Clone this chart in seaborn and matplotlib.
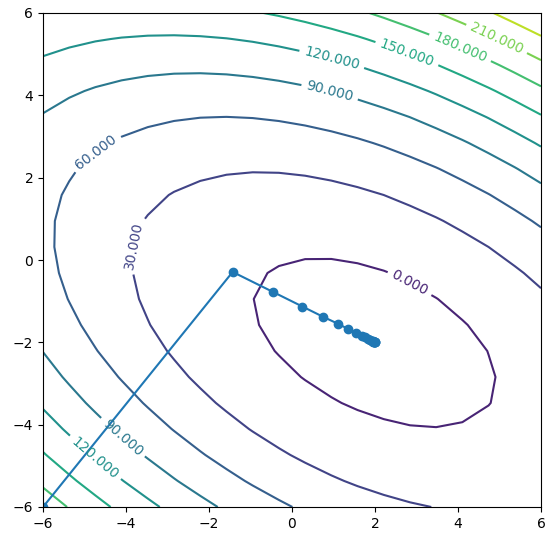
import numpy as np
import matplotlib
matplotlib.use('Agg')
import matplotlib.pyplot as plt
import seaborn as sns

# Forma cuadratica f(x) = 1/2 x^T A x - b^T x
A = [[3.0, 2.0], [2.0, 6.0]]
b = [2.0, -8.0]

# Niveles de las curvas de nivel
niveles = [0, 30, 60, 90, 120, 150, 180, 210, 240]

# Recorrido del descenso de gradiente
camino_x = [-6.0, -1.43, -0.45, 0.25, 0.75, 1.11, 1.36, 1.55, 1.68, 1.77, 1.83,
            1.88, 1.92, 1.94, 1.96, 1.97, 1.98, 1.98, 1.99, 1.99, 2.0]
camino_y = [-6.0, -0.29, -0.78, -1.13, -1.38, -1.55, -1.68, -1.77, -1.84, -1.88, -1.92,
            -1.94, -1.96, -1.97, -1.98, -1.98, -1.99, -1.99, -1.99, -2.0, -2.0]

# Posiciones de las etiquetas
pos_etiquetas = [(2.84, -0.56), (-3.83, 0.36), (-4.75, 2.67), (0.92, 4.13),
                 (0.96, 4.88), (2.8, 5.1), (4.1, 5.27), (4.94, 5.39),
                 (-4.07, -4.3), (-4.75, -4.81)]

# Malla
xs = np.linspace(-6, 6, 20)
ys = np.linspace(-6, 6, 20)
X, Y = np.meshgrid(xs, ys)
Z = 0.5 * (A[0][0] * X**2 + 2 * A[0][1] * X * Y + A[1][1] * Y**2) - b[0] * X - b[1] * Y

fig = plt.figure(figsize=(5.46, 5.35), dpi=100)
ax = fig.add_axes([43 / 546, 1 - 507 / 535, 498 / 546, 494 / 535])

cs = ax.contour(X, Y, Z, levels=niveles, cmap='viridis', vmin=-30, vmax=270)
ax.set_xlim(-6, 6)
ax.set_ylim(-6, 6)

sns.lineplot(x=camino_x, y=camino_y, ax=ax, marker='o', sort=False, estimator=None,
             color='#1f77b4', markeredgecolor='#1f77b4', markeredgewidth=1.0,
             markersize=6, linewidth=1.5)

ax.set_xlim(-6, 6)
ax.set_ylim(-6, 6)
ax.clabel(cs, inline=True, fontsize=10, fmt='%1.3f', manual=pos_etiquetas)

fig.savefig('out.png', dpi=100)
